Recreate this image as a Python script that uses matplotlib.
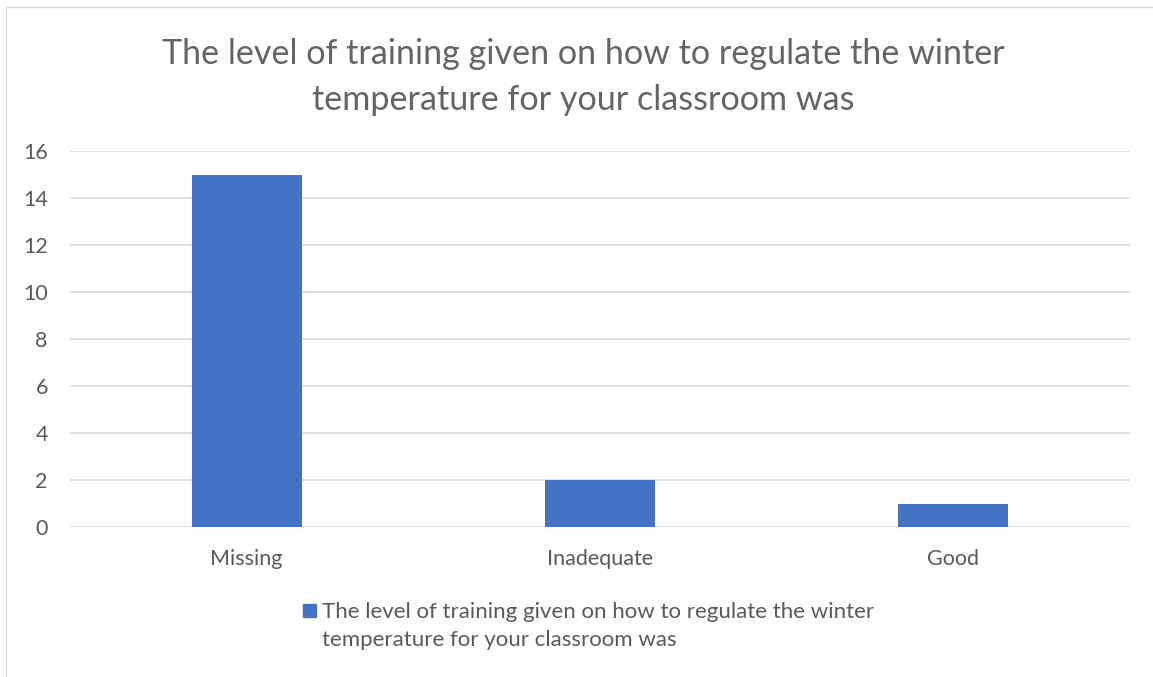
import matplotlib.pyplot as plt
from matplotlib.patches import Rectangle

categories = ["Missing", "Inadequate", "Good"]
counts = [15, 2, 1]
series_name = "The level of training given on how to regulate the winter\ntemperature for your classroom was"
title = "The level of training given on how to regulate the winter\ntemperature for your classroom was"
yticks = [0, 2, 4, 6, 8, 10, 12, 14, 16]

plt.rcParams['font.family'] = ['Lato', 'DejaVu Sans']
grey = "#595959"
bar_color = "#4472C4"
W, H = 1153, 677

fig = plt.figure(figsize=(W / 100, H / 100), dpi=100)
ax = fig.add_axes([70/W, 1 - 527/H, 1060/W, 376/H])

ax.bar(range(len(categories)), counts, width=0.311, color=bar_color, zorder=3)
ax.set_xlim(-0.5, 2.5)
ax.set_ylim(0, 16)
ax.set_yticks(yticks)
ax.set_xticks(range(len(categories)))
ax.set_xticklabels(categories)
ax.yaxis.grid(True, color="#d9d9d9", linewidth=1.2, zorder=0)
ax.set_axisbelow(True)
for s in ax.spines.values():
    s.set_visible(False)
ax.tick_params(axis='both', length=0, labelsize=15.5, colors=grey)
ax.tick_params(axis='x', pad=16)
ax.tick_params(axis='y', pad=16)

fig.text(583/W, 1 - 77/H, title, ha='center', va='center', fontsize=24.6,
         color="#646464", linespacing=1.55)

# legend: square + two-line label
fig.patches.append(Rectangle((303/W, 1 - 617/H), 13/W, 13/H,
                             transform=fig.transFigure, color=bar_color))
fig.text(322/W, 1 - 626/H, series_name, ha='left', va='center',
         fontsize=16, color=grey, linespacing=1.55)

# chart border
fig.patches.append(Rectangle((6/W, -0.05), 1.2, 1 - 7/H + 0.05,
                             transform=fig.transFigure, fill=False,
                             edgecolor="#d9d9d9", linewidth=1))

fig.savefig("out.png", dpi=100)
